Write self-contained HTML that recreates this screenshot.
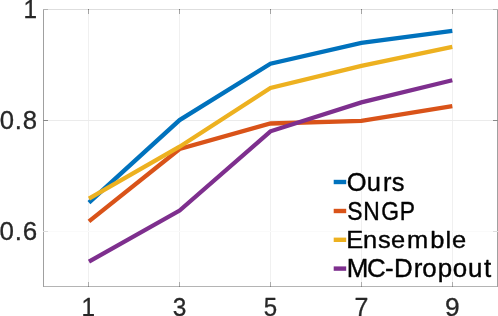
<!DOCTYPE html>
<html><head><meta charset="utf-8"><title>chart</title>
<style>
html,body{margin:0;padding:0;background:#fff;}
body{width:498px;height:316px;overflow:hidden;}
svg{display:block;}
text{font-family:"Liberation Sans",sans-serif;fill:#262626;stroke:#262626;stroke-width:0.3px;stroke-linejoin:round;}
text.lg{fill:#000;stroke:#000;stroke-width:0.4px;}
</style></head><body>
<svg width="498" height="316" viewBox="0 0 498 316">
<rect width="498" height="316" fill="#fff"/>

<g shape-rendering="crispEdges">
<rect x="88" y="10" width="1" height="276" fill="#f0f0f0"/>
<rect x="179" y="10" width="1" height="276" fill="#f0f0f0"/>
<rect x="270" y="10" width="1" height="276" fill="#f0f0f0"/>
<rect x="361" y="10" width="1" height="276" fill="#f0f0f0"/>
<rect x="452" y="10" width="1" height="276" fill="#f0f0f0"/>
<rect x="44" y="120" width="453" height="1" fill="#ebebeb"/>
<rect x="44" y="231" width="453" height="1" fill="#fafafa"/>
<rect x="43" y="9" width="455" height="1" fill="#dedede"/>
<rect x="43" y="286" width="455" height="1" fill="#b4b4b4"/>
<rect x="43" y="9" width="1" height="278" fill="#a0a0a0"/>
<rect x="497" y="9" width="1" height="278" fill="#a0a0a0"/>
<rect x="88" y="9" width="1" height="5" fill="#a4a4a4"/>
<rect x="88" y="282" width="1" height="5" fill="#acacac"/>
<rect x="88" y="9" width="1" height="1" fill="#7c7c7c"/>
<rect x="88" y="286" width="1" height="1" fill="#848484"/>
<rect x="179" y="9" width="1" height="5" fill="#a4a4a4"/>
<rect x="179" y="282" width="1" height="5" fill="#acacac"/>
<rect x="179" y="9" width="1" height="1" fill="#7c7c7c"/>
<rect x="179" y="286" width="1" height="1" fill="#848484"/>
<rect x="270" y="9" width="1" height="5" fill="#a4a4a4"/>
<rect x="270" y="282" width="1" height="5" fill="#acacac"/>
<rect x="270" y="9" width="1" height="1" fill="#7c7c7c"/>
<rect x="270" y="286" width="1" height="1" fill="#848484"/>
<rect x="361" y="9" width="1" height="5" fill="#a4a4a4"/>
<rect x="361" y="282" width="1" height="5" fill="#acacac"/>
<rect x="361" y="9" width="1" height="1" fill="#7c7c7c"/>
<rect x="361" y="286" width="1" height="1" fill="#848484"/>
<rect x="452" y="9" width="1" height="5" fill="#a4a4a4"/>
<rect x="452" y="282" width="1" height="5" fill="#acacac"/>
<rect x="452" y="9" width="1" height="1" fill="#7c7c7c"/>
<rect x="452" y="286" width="1" height="1" fill="#848484"/>
<rect x="43" y="9" width="5" height="1" fill="#b4b4b4"/>
<rect x="493" y="9" width="5" height="1" fill="#b4b4b4"/>
<rect x="43" y="120" width="5" height="1" fill="#8a8a8a"/>
<rect x="493" y="120" width="5" height="1" fill="#8a8a8a"/>
<rect x="43" y="231" width="5" height="1" fill="#dcdcdc"/>
<rect x="493" y="231" width="5" height="1" fill="#dcdcdc"/>
</g>
<g fill="none" stroke-width="4.3" stroke-linejoin="miter" stroke-linecap="butt">
<polyline stroke="#0072BD" points="88.95,202.6 179.6,120.05 270.45,63.65 361.4,42.8 452.3,30.8"/>
<polyline stroke="#D95319" points="88.95,221.4 179.6,149.0 270.45,123.5 361.4,120.8 452.3,106.1"/>
<polyline stroke="#EDB120" points="88.95,198.7 179.6,146.7 270.45,88.0 361.4,65.95 452.3,46.8"/>
<polyline stroke="#7E2F8E" points="88.95,261.6 179.6,210.6 270.45,131.3 361.4,102.35 452.3,80.25"/>
</g>
<line x1="333.7" y1="182" x2="346.2" y2="182" stroke="#0072BD" stroke-width="4.4"/>
<line x1="333.7" y1="211" x2="346.2" y2="211" stroke="#D95319" stroke-width="4.4"/>
<line x1="333.7" y1="239.8" x2="346.2" y2="239.8" stroke="#EDB120" stroke-width="4.4"/>
<line x1="333.7" y1="268.6" x2="346.2" y2="268.6" stroke="#7E2F8E" stroke-width="4.4"/>
<g opacity="0.996">
<text id="y0" transform="scale(0.9666 1)" x="24.22" y="17.60" font-size="25.21">1</text>
<text id="y1" transform="scale(1.0056 1)" x="-0.32 14.69 22.61" y="129.22" font-size="25.55">0.8</text>
<text id="y2" transform="scale(1.0163 1)" x="-0.39 14.50 22.30" y="240.22" font-size="25.55">0.6</text>
<text id="x0" transform="scale(0.9666 1)" x="84.43" y="315.70" font-size="25.21">1</text>
<text id="x1" transform="scale(0.9587 1)" x="180.15" y="315.83" font-size="25.55">3</text>
<text id="x2" transform="scale(0.9485 1)" x="278.03" y="315.83" font-size="25.38">5</text>
<text id="x3" transform="scale(0.9900 1)" x="358.10" y="315.70" font-size="25.21">7</text>
<text id="x4" transform="scale(1.0311 1)" x="431.67" y="315.83" font-size="25.55">9</text>
<text id="l0" class="lg" transform="scale(0.9962 1)" x="348.03 368.18 384.36 393.32" y="190.68" font-size="25.55">Ours</text>
<text id="l1" class="lg" transform="scale(0.8944 1)" x="388.27 406.25 426.28 447.03" y="219.55" font-size="25.55">SNGP</text>
<text id="l2" class="lg" transform="scale(1.0327 1)" x="335.19 351.63 366.07 378.67 394.05 416.54 431.29 437.77" y="248.50" font-size="24.67">Ensemble</text>
<text id="l3" class="lg" transform="scale(1.0217 1)" x="339.35 359.24 376.95 385.56 405.01 413.41 428.43 443.17 457.98 473.74" y="277.00" font-size="25.38">MC-Dropout</text>
</g>
</svg></body></html>
